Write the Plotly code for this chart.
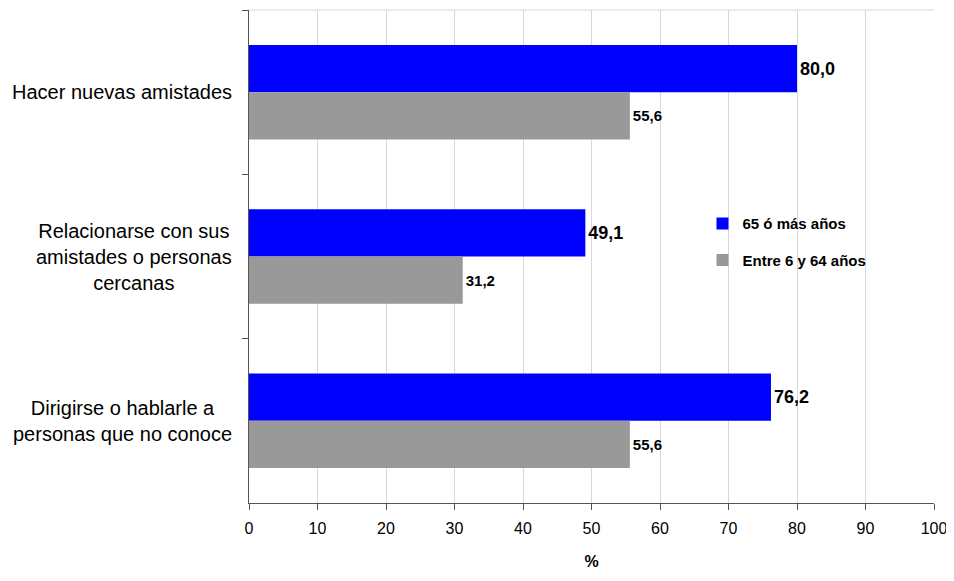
import plotly.graph_objects as go

categories = ["Hacer nuevas amistades",
              "Relacionarse con sus<br>amistades o personas<br>cercanas",
              "Dirigirse o hablarle a<br>personas que no conoce"]
series_names = ["65 ó más años", "Entre 6 y 64 años"]
values_65 = [80.0, 49.1, 76.2]
values_6_64 = [55.6, 31.2, 55.6]
x_ticks = [0, 10, 20, 30, 40, 50, 60, 70, 80, 90, 100]

FONT = "Liberation Sans, Arial, sans-serif"

def fmt(v):
    return f"{v:.1f}".replace(".", ",")

cat_ids = ["c0", "c1", "c2"]

fig = go.Figure()
fig.add_trace(go.Bar(
    y=cat_ids, x=values_65, orientation="h", name=series_names[0],
    marker=dict(color="#0000FF", line=dict(width=0)),
    text=[fmt(v) for v in values_65], textposition="outside",
    textfont=dict(family=FONT, size=18, color="#000000", weight="bold"),
    legendgroup="a", cliponaxis=False,
))
fig.add_trace(go.Bar(
    y=cat_ids, x=values_6_64, orientation="h", name=series_names[1],
    marker=dict(color="#999999", line=dict(width=0)),
    text=[fmt(v) for v in values_6_64], textposition="outside",
    textfont=dict(family=FONT, size=15, color="#000000", weight="bold"),
    legendgroup="b", cliponaxis=False,
))

for cid, label in zip(cat_ids, categories):
    fig.add_annotation(
        x=0, xref="paper", y=cid, yref="y", xshift=-15,
        xanchor="right", yanchor="middle", align="center",
        text=label, showarrow=False,
        font=dict(family=FONT, size=20, color="#000000"),
    )

fig.add_shape(type="line", xref="paper", yref="paper", x0=0, x1=1, y0=1, y1=1,
              line=dict(color="#d9d9d9", width=1))

fig.update_layout(
    width=946, height=562,
    margin=dict(l=241, r=20, t=2, b=64),
    paper_bgcolor="white", plot_bgcolor="white",
    barmode="group", bargap=0.425, bargroupgap=0,
    font=dict(family=FONT, size=16, color="#000000"),
    showlegend=True,
    legend=dict(
        x=0.662, y=0.600, xanchor="left", yanchor="top",
        font=dict(family=FONT, size=15, color="#000000", weight="bold"),
        traceorder="grouped", tracegroupgap=14,
        bgcolor="rgba(0,0,0,0)", itemwidth=30,
    ),
    xaxis=dict(
        range=[0, 100], tickvals=x_ticks, ticktext=[str(t) for t in x_ticks],
        showgrid=True, gridcolor="#d9d9d9", gridwidth=1,
        showline=True, linecolor="#555555", linewidth=1,
        ticks="outside", ticklen=6, tickcolor="#555555",
        ticklabelstandoff=5,
        tickfont=dict(family=FONT, size=16, color="#000000"),
        zeroline=False,
        title=dict(text="<b>%</b>", font=dict(family=FONT, size=16, color="#000000"), standoff=20),
    ),
    yaxis=dict(
        categoryorder="array", categoryarray=cat_ids,
        autorange="reversed",
        showticklabels=False, showgrid=False,
        showline=True, linecolor="#555555", linewidth=1,
        ticks="outside", ticklen=6, tickcolor="#555555", tickson="boundaries",
        zeroline=False,
    ),
)

fig.write_html("out.html")
